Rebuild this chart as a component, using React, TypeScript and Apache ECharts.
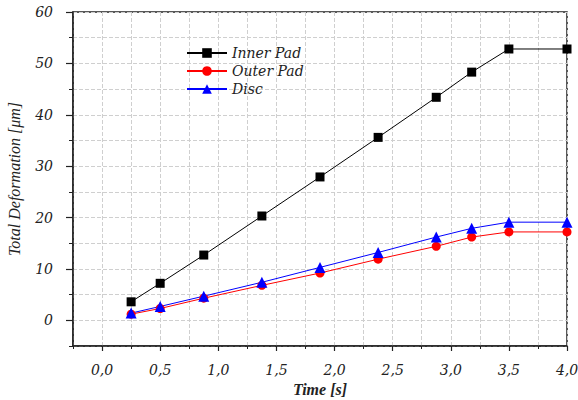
import React, { useEffect, useRef } from "react";
import * as echarts from "echarts";

const timeValues = [0.25, 0.5, 0.875, 1.375, 1.875, 2.375, 2.875, 3.18, 3.5, 4.0];
const innerPad = [3.6, 7.2, 12.7, 20.3, 27.9, 35.6, 43.4, 48.3, 52.8, 52.8];
const outerPad = [1.2, 2.3, 4.3, 6.8, 9.2, 11.9, 14.4, 16.2, 17.2, 17.2];
const disc = [1.4, 2.7, 4.7, 7.4, 10.3, 13.2, 16.2, 17.9, 19.1, 19.1];
const xTickLabels = [0, 0.5, 1, 1.5, 2, 2.5, 3, 3.5, 4];
const yTickLabels = [0, 10, 20, 30, 40, 50, 60];

const FONT = "DejaVu Serif";

export default function App() {
  const ref = useRef<HTMLDivElement>(null);
  useEffect(() => {
    if (!ref.current) return;
    const chart = echarts.init(ref.current, null, { renderer: "svg" });
    const pair = (ys: number[]) => timeValues.map((x, i) => [x, ys[i]]);
    const labelStyle = {
      fontFamily: FONT,
      fontStyle: "italic" as const,
      fontSize: 14,
      color: "#222",
    };
    chart.setOption({
      animation: false,
      backgroundColor: "#fff",
      grid: {
        left: 73,
        right: 11,
        top: 12,
        bottom: 54,
        outerBoundsMode: "none",
        containLabel: false,
        show: true,
        borderColor: "#222",
        borderWidth: 1.5,
      },
      legend: {
        orient: "vertical",
        left: 181,
        top: 41,
        itemWidth: 40,
        itemHeight: 12,
        itemGap: 4,
        textStyle: { ...labelStyle, fontSize: 14 },
        data: ["Inner Pad", "Outer Pad", "Disc"],
      },
      xAxis: [
        {
          type: "value",
          min: -0.25,
          max: 4,
          interval: 0.25,
          position: "bottom",
          axisLine: { show: true, onZero: false, lineStyle: { color: "#222", width: 1.5 } },
          axisTick: { show: true, length: 3, lineStyle: { color: "#222" } },
          axisLabel: { show: false },
          splitLine: { show: true, lineStyle: { color: "#cfcfcf", type: "dashed", width: 1 } },
        },
        {
          type: "value",
          min: -0.25,
          max: 4,
          position: "bottom",
          name: "Time [s]",
          nameLocation: "middle",
          nameGap: 34,
          nameTextStyle: {
            fontFamily: "Liberation Serif",
            fontStyle: "italic",
            fontWeight: "bold",
            fontSize: 16,
            color: "#222",
          },
          axisLine: { show: false, onZero: false },
          axisTick: { show: true, length: 5, customValues: xTickLabels, lineStyle: { color: "#222", width: 1.2 } },
          axisLabel: {
            ...labelStyle,
            margin: 17,
            customValues: xTickLabels,
            formatter: (v: number) => v.toFixed(1).replace(".", ","),
          },
          splitLine: { show: false },
        },
      ],
      yAxis: [
        {
          type: "value",
          min: -5,
          max: 60,
          interval: 5,
          position: "left",
          axisLine: { show: true, onZero: false, lineStyle: { color: "#222", width: 1.5 } },
          axisTick: { show: true, length: 4, lineStyle: { color: "#222" } },
          axisLabel: { show: false },
          splitLine: { show: true, lineStyle: { color: "#cfcfcf", type: "dashed", width: 1 } },
        },
        {
          type: "value",
          min: -5,
          max: 60,
          position: "left",
          name: "Total Deformation [μm]",
          nameLocation: "middle",
          nameGap: 51,
          nameTextStyle: { fontFamily: "Liberation Serif", fontStyle: "italic", fontSize: 16, color: "#222" },
          axisLine: { show: false, onZero: false },
          axisTick: { show: true, length: 7, customValues: yTickLabels, lineStyle: { color: "#222", width: 1.2 } },
          axisLabel: { ...labelStyle, margin: 20, customValues: yTickLabels },
          splitLine: { show: false },
        },
      ],
      series: [
        {
          name: "Inner Pad",
          type: "line",
          xAxisIndex: 0,
          yAxisIndex: 0,
          data: pair(innerPad),
          symbol: "rect",
          symbolSize: 9,
          color: "#000000",
          lineStyle: { width: 1, color: "#000000" },
          itemStyle: { color: "#000000" },
        },
        {
          name: "Outer Pad",
          type: "line",
          xAxisIndex: 0,
          yAxisIndex: 0,
          data: pair(outerPad),
          symbol: "circle",
          symbolSize: 9,
          color: "#ff0000",
          lineStyle: { width: 1, color: "#ff0000" },
          itemStyle: { color: "#ff0000" },
        },
        {
          name: "Disc",
          type: "line",
          xAxisIndex: 0,
          yAxisIndex: 0,
          data: pair(disc),
          symbol: "triangle",
          symbolSize: 11,
          color: "#0000ff",
          lineStyle: { width: 1, color: "#0000ff" },
          itemStyle: { color: "#0000ff" },
        },
      ],
    });
    return () => chart.dispose();
  }, []);
  return (
    <div
      ref={ref}
      style={{ position: "fixed", left: 0, top: 0, width: 578, height: 400 }}
    />
  );
}
